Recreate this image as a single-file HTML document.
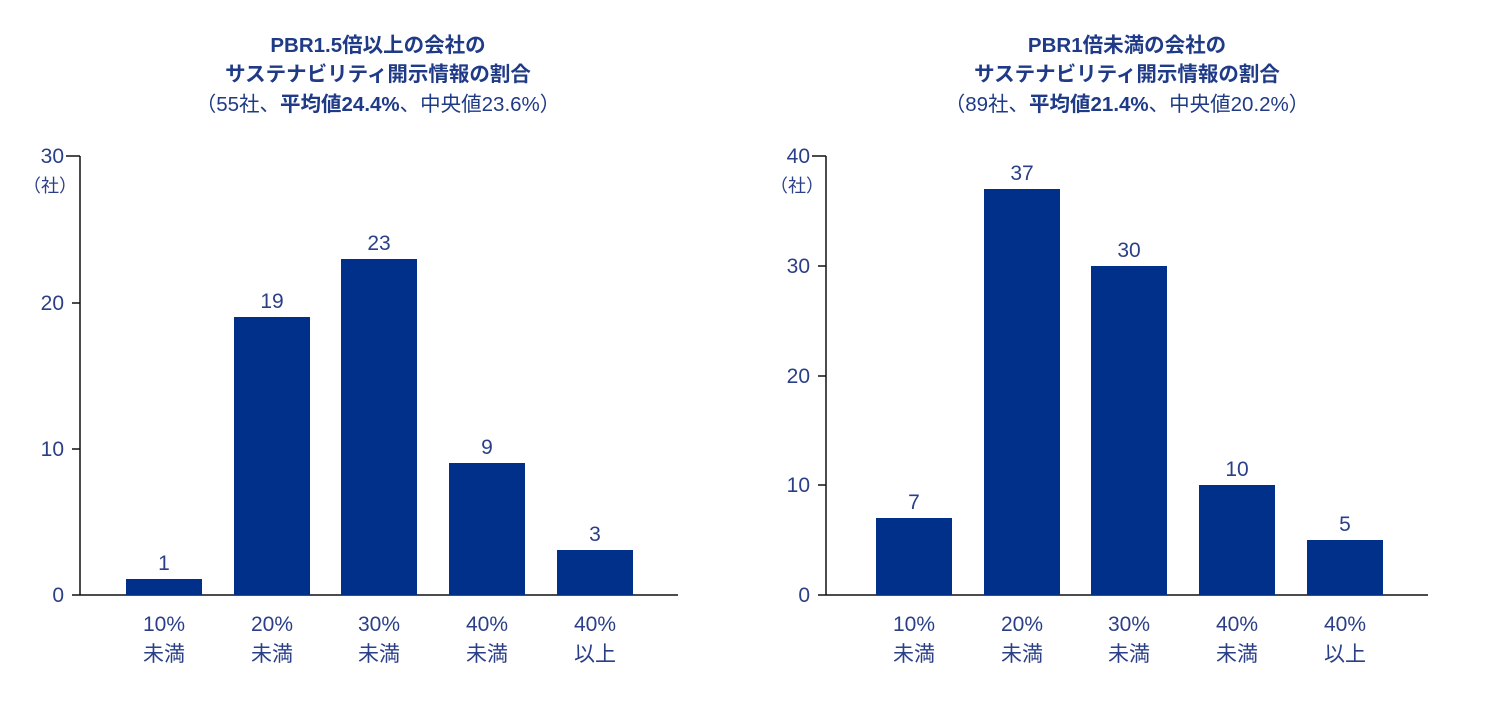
<!DOCTYPE html>
<html><head><meta charset="utf-8"><style>
html,body{margin:0;padding:0;background:#fff;}
svg{display:block;font-family:"Liberation Sans","Noto Sans CJK JP",sans-serif;}
</style></head><body>
<svg width="1500" height="708" viewBox="0 0 1500 708" xmlns="http://www.w3.org/2000/svg">
<g fill="#1f3a86" text-anchor="middle">
<g font-weight="bold" font-size="20.5">
<text x="378" y="52">PBR1.5倍以上の会社の</text>
<text x="378" y="81">サステナビリティ開示情報の割合</text>
<text x="1127" y="52">PBR1倍未満の会社の</text>
<text x="1127" y="81">サステナビリティ開示情報の割合</text>
</g>
<text x="378" y="111" font-size="20.5">（55社、<tspan font-weight="bold">平均値24.4%</tspan>、中央値23.6%）</text>
<text x="1127" y="111" font-size="20.5">（89社、<tspan font-weight="bold">平均値21.4%</tspan>、中央値20.2%）</text>
</g>
<g stroke="#111" stroke-width="1.5" fill="none">
<path d="M80,156 V595 H678 M66,156 H80 M72,303 H80 M72,449 H80 M72,595 H80"/>
<path d="M826,156 V595 H1428 M812,156 H826 M818,266 H826 M818,376 H826 M818,485 H826 M818,595 H826"/>
</g>
<g fill="#00308a">
<rect x="126" y="579" width="76" height="16"/>
<rect x="234" y="317" width="76" height="278"/>
<rect x="341" y="259" width="76" height="336"/>
<rect x="449" y="463" width="76" height="132"/>
<rect x="557" y="550" width="76" height="45"/>
<rect x="876" y="518" width="76" height="77"/>
<rect x="984" y="189" width="76" height="406"/>
<rect x="1091" y="266" width="76" height="329"/>
<rect x="1199" y="485" width="76" height="110"/>
<rect x="1307" y="540" width="76" height="55"/>
</g>
<g fill="#2a3f88" font-size="21">
<g text-anchor="end">
<text x="64" y="163">30</text><text x="64" y="310">20</text><text x="64" y="456">10</text><text x="64" y="602">0</text>
<text x="810" y="163">40</text><text x="810" y="273">30</text><text x="810" y="383">20</text><text x="810" y="492">10</text><text x="810" y="602">0</text>
</g>
<text x="50" y="192" text-anchor="middle" font-size="18">（社）</text>
<text x="797" y="192" text-anchor="middle" font-size="18">（社）</text>
<g text-anchor="middle">
<text x="164" y="570">1</text><text x="272" y="308">19</text><text x="379" y="250">23</text><text x="487" y="454">9</text><text x="595" y="541">3</text>
<text x="914" y="509">7</text><text x="1022" y="180">37</text><text x="1129" y="257">30</text><text x="1237" y="476">10</text><text x="1345" y="531">5</text>
<text x="164" y="631">10%</text><text x="164" y="661">未満</text>
<text x="272" y="631">20%</text><text x="272" y="661">未満</text>
<text x="379" y="631">30%</text><text x="379" y="661">未満</text>
<text x="487" y="631">40%</text><text x="487" y="661">未満</text>
<text x="595" y="631">40%</text><text x="595" y="661">以上</text>
<text x="914" y="631">10%</text><text x="914" y="661">未満</text>
<text x="1022" y="631">20%</text><text x="1022" y="661">未満</text>
<text x="1129" y="631">30%</text><text x="1129" y="661">未満</text>
<text x="1237" y="631">40%</text><text x="1237" y="661">未満</text>
<text x="1345" y="631">40%</text><text x="1345" y="661">以上</text>
</g>
</g>
</svg>
</body></html>
